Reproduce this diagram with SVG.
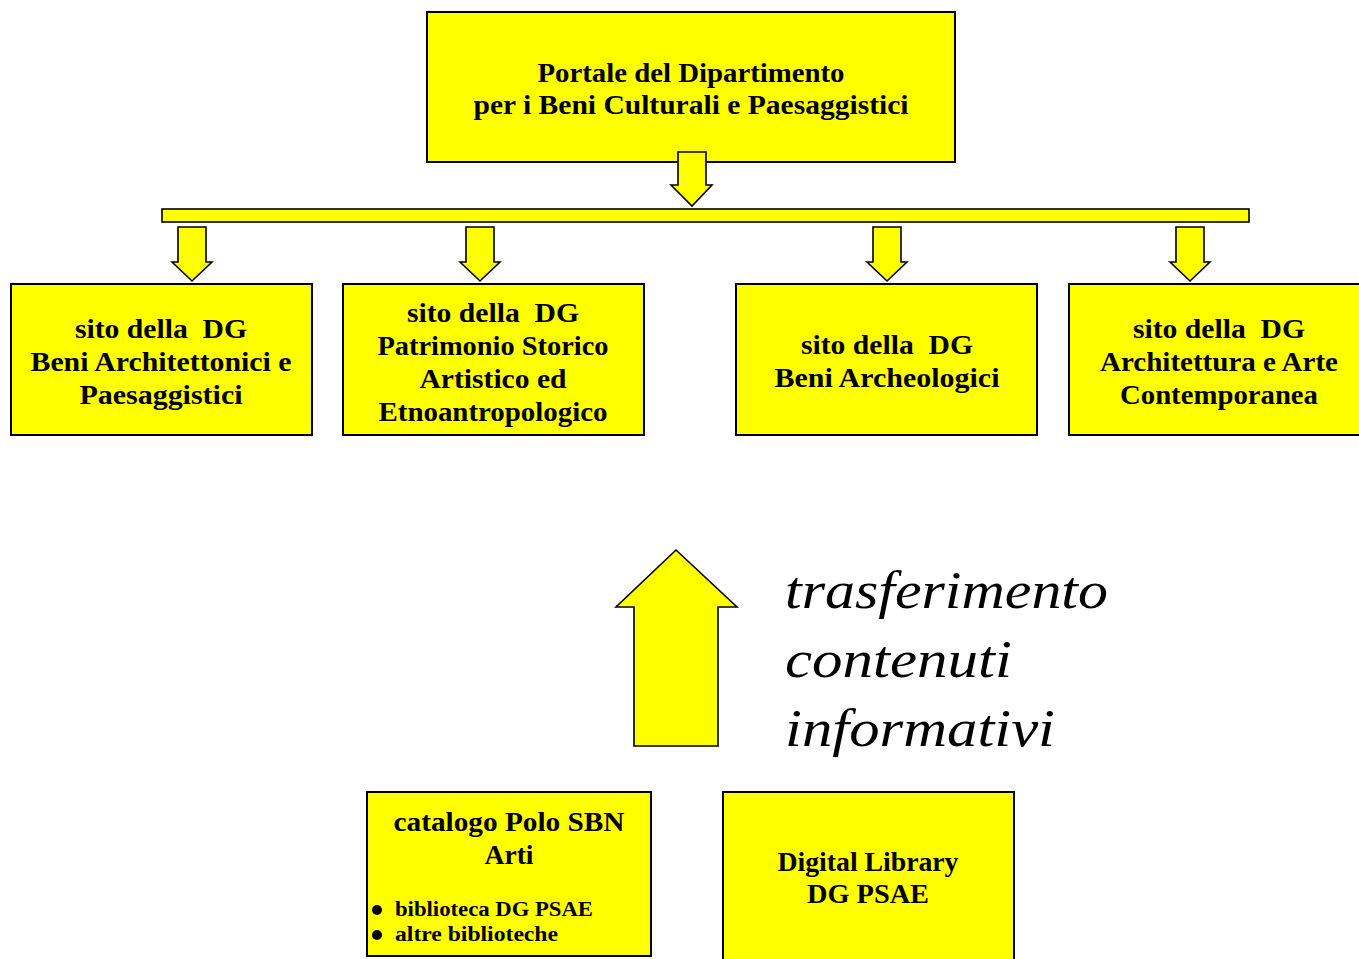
<svg xmlns="http://www.w3.org/2000/svg" width="1359" height="959" viewBox="0 0 1359 959">
<style>
.box{fill:#FFFF00;stroke:#000;stroke-width:2}
.arr{fill:#FFFF00;stroke:#000;stroke-width:1.6;stroke-linejoin:miter}
.t{font-family:"Liberation Serif","Times New Roman",serif;font-weight:bold;font-size:27px;fill:#000;text-anchor:middle}
.s{font-family:"Liberation Serif","Times New Roman",serif;font-weight:bold;font-size:20px;fill:#000}
.it{font-family:"Liberation Serif","Times New Roman",serif;font-style:italic;font-size:52px;fill:#000}
</style>
<rect width="1359" height="959" fill="#fff"/>
<g id="portale">
<rect class="box" x="427" y="12" width="528" height="150"/>
<text class="t" x="691" y="82" textLength="307" lengthAdjust="spacingAndGlyphs">Portale del Dipartimento</text>
<text class="t" x="691" y="114" textLength="435" lengthAdjust="spacingAndGlyphs">per i Beni Culturali e Paesaggistici</text>
</g>
<g id="dg-bap">
<rect class="box" x="11" y="284" width="301" height="151"/>
<text class="t" x="161" y="338" textLength="172" lengthAdjust="spacingAndGlyphs">sito della&#160; DG</text>
<text class="t" x="161" y="371" textLength="261" lengthAdjust="spacingAndGlyphs">Beni Architettonici e</text>
<text class="t" x="161" y="404" textLength="163" lengthAdjust="spacingAndGlyphs">Paesaggistici</text>
</g>
<g id="dg-psae">
<rect class="box" x="343" y="284" width="301" height="151"/>
<text class="t" x="493" y="322" textLength="172" lengthAdjust="spacingAndGlyphs">sito della&#160; DG</text>
<text class="t" x="493" y="355" textLength="231" lengthAdjust="spacingAndGlyphs">Patrimonio Storico</text>
<text class="t" x="493" y="388" textLength="147" lengthAdjust="spacingAndGlyphs">Artistico ed</text>
<text class="t" x="493" y="421" textLength="229" lengthAdjust="spacingAndGlyphs">Etnoantropologico</text>
</g>
<g id="dg-ba">
<rect class="box" x="736" y="284" width="301" height="151"/>
<text class="t" x="887" y="354" textLength="172" lengthAdjust="spacingAndGlyphs">sito della&#160; DG</text>
<text class="t" x="887" y="387" textLength="225" lengthAdjust="spacingAndGlyphs">Beni Archeologici</text>
</g>
<g id="dg-parc">
<rect class="box" x="1069" y="284" width="310" height="151"/>
<text class="t" x="1219" y="338" textLength="172" lengthAdjust="spacingAndGlyphs">sito della&#160; DG</text>
<text class="t" x="1219" y="371" textLength="238" lengthAdjust="spacingAndGlyphs">Architettura e Arte</text>
<text class="t" x="1219" y="404" textLength="198" lengthAdjust="spacingAndGlyphs">Contemporanea</text>
</g>
<g id="trasferimento">
<text class="it" x="785" y="608" textLength="323" lengthAdjust="spacingAndGlyphs">trasferimento</text>
<text class="it" x="785" y="677" textLength="227" lengthAdjust="spacingAndGlyphs">contenuti</text>
<text class="it" x="785" y="746" textLength="270" lengthAdjust="spacingAndGlyphs">informativi</text>
</g>
<g id="catalogo">
<rect class="box" x="367" y="792" width="284" height="164"/>
<text class="t" x="509" y="831" textLength="231" lengthAdjust="spacingAndGlyphs">catalogo Polo SBN</text>
<text class="t" x="509" y="864" textLength="49" lengthAdjust="spacingAndGlyphs">Arti</text>
<circle cx="377" cy="910" r="5"/>
<circle cx="377" cy="935" r="5"/>
<text class="s" x="395" y="916" textLength="198" lengthAdjust="spacingAndGlyphs">biblioteca DG PSAE</text>
<text class="s" x="395" y="941" textLength="163" lengthAdjust="spacingAndGlyphs">altre biblioteche</text>
</g>
<g id="digital-library">
<rect class="box" x="723" y="792" width="291" height="180"/>
<text class="t" x="868" y="871" textLength="181" lengthAdjust="spacingAndGlyphs">Digital Library</text>
<text class="t" x="868" y="903" textLength="122" lengthAdjust="spacingAndGlyphs">DG PSAE</text>
</g>
<g id="connectors">
<path class="arr" d="M678,152 H706 V185 H712 L692,206 L671,185 H678 Z"/>
<rect class="arr" x="162" y="209" width="1087" height="13"/>
<path class="arr" d="M178,227 H206 V262 H212 L192,281 L172,262 H178 Z"/>
<path class="arr" d="M466,227 H494 V262 H500 L480,281 L460,262 H466 Z"/>
<path class="arr" d="M873,227 H901 V262 H907 L887,281 L867,262 H873 Z"/>
<path class="arr" d="M1176,227 H1204 V262 H1210 L1190,281 L1170,262 H1176 Z"/>
<path class="arr" d="M634,746 V607 H616 L676,550 L737,607 H718 V746 Z"/>
</g>
</svg>
